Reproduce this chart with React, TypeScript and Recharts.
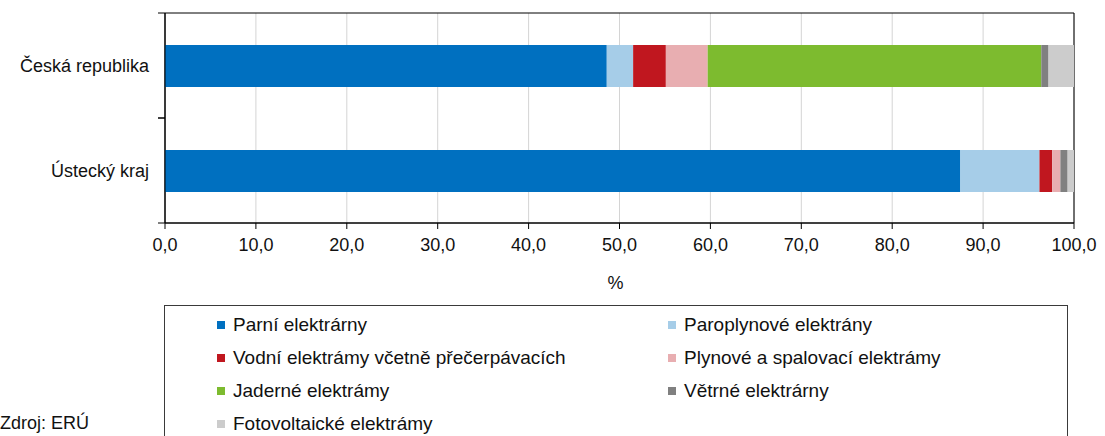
import {
  BarChart,
  Bar,
  XAxis,
  YAxis,
  CartesianGrid,
  Legend,
  ReferenceArea,
} from "recharts";

const categories = ["Česká republika", "Ústecký kraj"];

const parni = [48.6, 87.5];
const paroplyn = [2.9, 8.7];
const vodni = [3.6, 1.4];
const plynove = [4.6, 0.9];
const jaderne = [36.7, 0];
const vetrne = [0.8, 0.8];
const foto = [2.8, 0.7];

const xTicks = [0, 10, 20, 30, 40, 50, 60, 70, 80, 90, 100];

const series = [
  { key: "parni", name: "Parní elektrárny", values: parni, color: "#0070C0" },
  { key: "paroplyn", name: "Paroplynové elektrány", values: paroplyn, color: "#A6CDE8" },
  { key: "vodni", name: "Vodní elektrámy včetně přečerpávacích", values: vodni, color: "#C0171F" },
  { key: "plynove", name: "Plynové a spalovací elektrámy", values: plynove, color: "#E8AEB1" },
  { key: "jaderne", name: "Jaderné elektrámy", values: jaderne, color: "#7DBB2F" },
  { key: "vetrne", name: "Větrné elektrárny", values: vetrne, color: "#808080" },
  { key: "foto", name: "Fotovoltaické elektrámy", values: foto, color: "#CCCCCC" },
];

const data = categories.map((name, i) => {
  const row: any = { name };
  series.forEach((s) => (row[s.key] = s.values[i]));
  return row;
});

const FONT = '"Liberation Sans", Arial, sans-serif';
const band = 210 / categories.length;

// category label in the middle of the band, small ticks on the band edges
const CategoryTick = (props: any) => {
  const { x, y, payload } = props;
  return (
    <g>
      <line x1={x - 7} x2={x} y1={y - band / 2} y2={y - band / 2} stroke="#000" />
      <line x1={x - 7} x2={x} y1={y + band / 2} y2={y + band / 2} stroke="#000" />
      <text x={x - 16} y={y} textAnchor="end" dominantBaseline="central" fontSize={18} fill="#111" fontFamily={FONT}>
        {payload.value}
      </text>
    </g>
  );
};

const LegendBox = () => (
  <div
    style={{
      border: "1px solid #3a3a3a",
      height: 140,
      boxSizing: "border-box",
      display: "grid",
      gridTemplateColumns: "451px 451px",
      gridAutoRows: "33px",
      paddingTop: 2,
      fontFamily: FONT,
      fontSize: 19,
      color: "#111",
    }}
  >
    {series.map((s) => (
      <div key={s.key} style={{ display: "flex", alignItems: "center", paddingLeft: 52 }}>
        <span style={{ width: 8, height: 8, background: s.color, display: "inline-block", marginRight: 8 }} />
        <span>{s.name}</span>
      </div>
    ))}
  </div>
);

export default function App() {
  return (
    <div style={{ position: "relative", width: 1105, height: 436, overflow: "hidden" }}>
      <style>{`body{margin:0}`}</style>
      <BarChart
        width={1105}
        height={436}
        data={data}
        layout="vertical"
        margin={{ top: 13, right: 31, left: 10, bottom: 133 }}
        barSize={42}
      >
        <CartesianGrid horizontal={false} stroke="#d4d4d4" />
        <XAxis
          type="number"
          domain={[0, 100]}
          ticks={xTicks}
          height={80}
          tickSize={6}
          tickMargin={9}
          stroke="#000"
          tick={{ fill: "#111", fontSize: 18, fontFamily: FONT }}
          tickFormatter={(v: number) => v.toFixed(1).replace(".", ",")}
          label={{ value: "%", position: "insideTop", offset: 53, dx: -4, fill: "#111", fontSize: 18, fontFamily: FONT }}
        />
        <YAxis
          type="category"
          dataKey="name"
          width={155}
          stroke="#000"
          tickLine={false}
          tickSize={0}
          tickMargin={0}
          tick={<CategoryTick />}
        />
        {series.map((s) => (
          <Bar key={s.key} dataKey={s.key} name={s.name} stackId="a" fill={s.color} isAnimationActive={false} />
        ))}
        <ReferenceArea x1={0} x2={100} fill="none" fillOpacity={0} stroke="#000" strokeOpacity={1} />
        <Legend
          layout="horizontal"
          verticalAlign="middle"
          align="center"
          content={() => <LegendBox />}
          wrapperStyle={{ position: "absolute", left: 164, top: 305, width: 904, height: 140 }}
        />
      </BarChart>
      <div style={{ position: "absolute", left: 0, top: 413, fontFamily: FONT, fontSize: 18, color: "#111" }}>
        Zdroj: ERÚ
      </div>
    </div>
  );
}
